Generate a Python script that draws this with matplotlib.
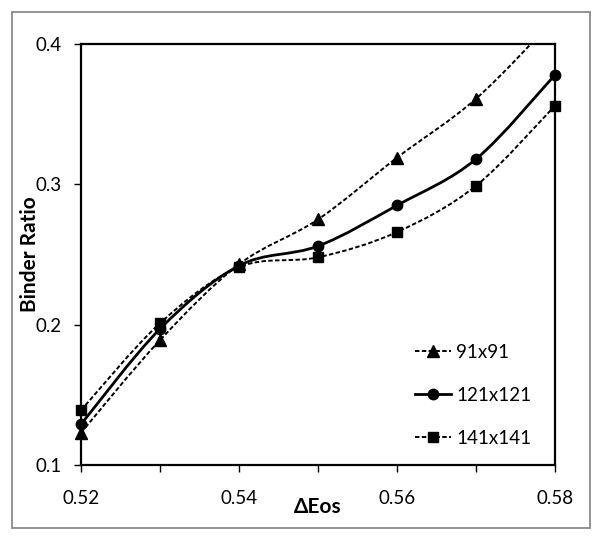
import numpy as np
import matplotlib
matplotlib.use('Agg')
from matplotlib import pyplot as plt
from matplotlib.path import Path
from matplotlib.patches import PathPatch, Rectangle
from matplotlib.lines import Line2D

plt.rcParams['font.family'] = ['Lato', 'DejaVu Sans']

# values
d_eos = [0.52, 0.53, 0.54, 0.55, 0.56, 0.57, 0.58]
ratio_91 = [0.123, 0.189, 0.243, 0.275, 0.319, 0.361, 0.418]
ratio_121 = [0.129, 0.197, 0.242, 0.256, 0.285, 0.318, 0.378]
ratio_141 = [0.139, 0.201, 0.241, 0.248, 0.266, 0.299, 0.356]
labels = ['91x91', '121x121', '141x141']

x_ticks = [0.52, 0.53, 0.54, 0.55, 0.56, 0.57, 0.58]
x_tick_labels = ['0.52', '', '0.54', '', '0.56', '', '0.58']
y_ticks = [0.1, 0.2, 0.3, 0.4]


def smooth_path(xs, ys):
    # excel-like smoothed line: cubic bezier segments through the points
    pts = np.column_stack([xs, ys])
    n = len(pts)
    verts = [pts[0]]
    codes = [Path.MOVETO]
    for i in range(n - 1):
        p0 = pts[max(i - 1, 0)]
        p1 = pts[i]
        p2 = pts[i + 1]
        p3 = pts[min(i + 2, n - 1)]
        verts += [p1 + (p2 - p0) / 6, p2 - (p3 - p1) / 6, p2]
        codes += [Path.CURVE4] * 3
    return Path(verts, codes)


fig = plt.figure(figsize=(6, 5.39), dpi=100)
fig.patches.append(Rectangle((12 / 600, 11 / 539), 578 / 600, 516 / 539,
                             transform=fig.transFigure, fill=False,
                             edgecolor='#8a8a8a', linewidth=1.3))

ax = fig.add_axes([81 / 600, 74 / 539, 474 / 600, 421 / 539])

styles = [
    (ratio_91, '^', 8.5, (0, (2.3, 1.2)), 1.4),
    (ratio_121, 'o', 7.5, '-', 2.0),
    (ratio_141, 's', 7.5, (0, (2.3, 1.2)), 1.4),
]

handles = []
for (vals, mk, ms, ls, lw), lab in zip(styles, labels):
    patch = PathPatch(smooth_path(d_eos, vals), facecolor='none',
                      edgecolor='black', linewidth=lw, linestyle=ls, zorder=2)
    ax.add_patch(patch)
    # markers sit on the frame at both ends, do not cut them
    keep = [i for i, v in enumerate(vals) if v <= 0.4]
    ax.plot([d_eos[i] for i in keep], [vals[i] for i in keep],
            linestyle='none', marker=mk, markersize=ms,
            color='black', zorder=3, clip_on=False)
    handles.append(Line2D([], [], color='black', linestyle=ls, linewidth=lw,
                          marker=mk, markersize=ms, label=lab))

ax.set_xlim(0.52, 0.58)
ax.set_ylim(0.1, 0.4)
ax.set_xticks(x_ticks)
ax.set_xticklabels(x_tick_labels)
ax.set_yticks(y_ticks)
ax.set_yticklabels(['0.1', '0.2', '0.3', '0.4'])
ax.tick_params(axis='both', direction='out', length=5, width=1,
               labelsize=13.5, color='black')
ax.tick_params(axis='x', pad=13)
ax.tick_params(axis='y', pad=9)

for sp in ax.spines.values():
    sp.set_linewidth(1.6)
    sp.set_color('black')

ax.set_xlabel('ΔEos', fontsize=15, fontweight='bold')
ax.xaxis.set_label_coords(0.5, -0.1)
ax.xaxis.label.set_verticalalignment('center')
ax.set_ylabel('Binder Ratio', fontsize=15, fontweight='bold')
ax.yaxis.set_label_coords(-0.108, 0.5)
ax.yaxis.label.set_verticalalignment('center')

ax.legend(handles=handles, loc='upper left', bbox_to_anchor=(0.705, 0.288),
          frameon=False, fontsize=13.5, handlelength=1.9, handletextpad=0.3,
          labelspacing=1.38, borderpad=0, borderaxespad=0)

fig.savefig('out.png', dpi=100)
